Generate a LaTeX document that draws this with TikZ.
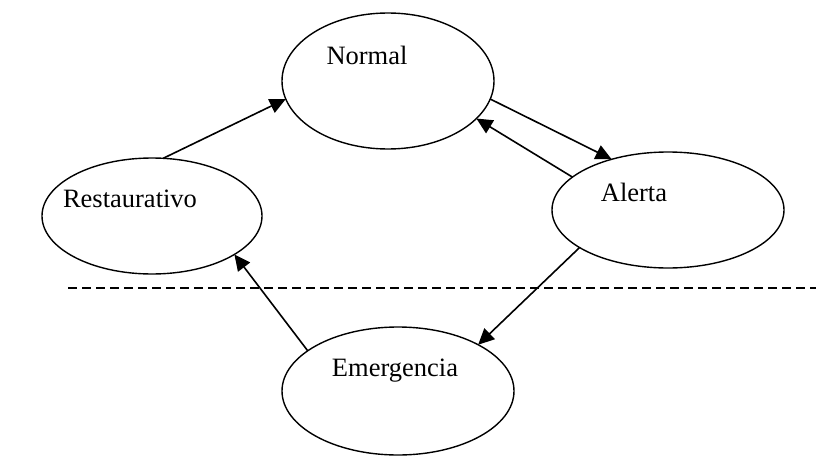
\documentclass[tikz,border=0pt]{standalone}
\usepackage{fontspec}
\setmainfont{Liberation Serif}
\usetikzlibrary{shapes.geometric,arrows.meta}
\begin{document}
\begin{tikzpicture}[x=1pt,y=-1pt,
  state/.style={ellipse,draw,line width=1.4pt,inner sep=0pt,outer sep=0pt},
  statename/.style={font=\fontsize{26.5}{30}\selectfont,inner sep=0pt},
  trans/.style={line width=1.6pt,-{Triangle[length=16pt,width=15pt]}}]
\useasboundingbox (0,0) rectangle (816,460);

% states
\node[state,minimum width=212pt,minimum height=136pt] (normal) at (388,81) {};
\node[state,minimum width=220pt,minimum height=116pt] (rest) at (152,216) {};
\node[state,minimum width=232pt,minimum height=116pt] (alerta) at (668,210) {};
\node[state,minimum width=232pt,minimum height=128pt] (emerg) at (398,391) {};

% state names
\node[statename] (tnormal) at (367,55) {Normal};
\node[statename] (trest) at (130,199) {Restaurativo};
\node[statename] (talerta) at (634,192) {Alerta};
\node[statename] (temerg) at (395,371) {Emergencia};

% boundary between the upper and lower states
\coordinate (dashL) at (68,288);
\coordinate (dashR) at (816,288);
\draw[line width=1.3pt,dash pattern=on 9pt off 5pt] (dashL) -- (dashR);

% transitions
\draw[trans] (rest.79) -- (normal.190);
\draw[trans] (normal.350) -- (alerta.138);
\draw[trans] (alerta.161) -- (normal.337);
\draw[trans] (alerta.203) -- (emerg.30);
\draw[trans] (emerg.156) -- (rest.335);
\end{tikzpicture}
\end{document}
